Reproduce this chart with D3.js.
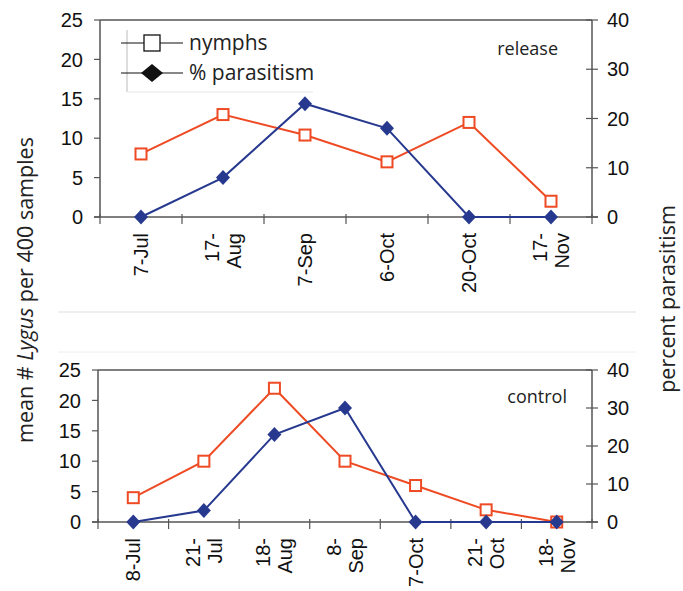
<!DOCTYPE html>
<html>
<head>
<meta charset="utf-8">
<script src="https://cdn.jsdelivr.net/npm/d3@7"></script>
<style>
  body { margin: 0; background: #fff; }
  svg { display: block; }
  .tick-lbl { font-family: "Liberation Sans", Arial, sans-serif; font-size: 20px; fill: #111; }
  .ttl { font-family: "Open Sans", sans-serif; fill: #222; }
</style>
</head>
<body>
<svg width="683" height="591"></svg>
<script>
// release panel
var relDates = ["7-Jul", "17-\nAug", "7-Sep", "6-Oct", "20-Oct", "17-\nNov"];
var relNymphs = [8, 13, 10.4, 7, 12, 2];
var relPara = [0, 8, 23, 18, 0, 0];
// control panel
var ctlDates = ["8-Jul", "21-\nJul", "18-\nAug", "8-\nSep", "7-Oct", "21-\nOct", "18-\nNov"];
var ctlNymphs = [4, 10, 22, 10, 6, 2, 0];
var ctlPara = [0, 3, 23, 30, 0, 0, 0];
// axes
var leftTicks = [0, 5, 10, 15, 20, 25];
var rightTicks = [0, 10, 20, 30, 40];

var orange = "#ee4b24", blue = "#27398f", axisCol = "#555";
var svg = d3.select("svg");

function drawPanel(dates, nymphs, para, box, label) {
  var g = svg.append("g");
  var x = d3.scaleBand().domain(dates).range([box.x0, box.x1]);
  var yL = d3.scaleLinear().domain([0, 25]).range([box.y1, box.y0]);
  var yR = d3.scaleLinear().domain([0, 40]).range([box.y1, box.y0]);
  var cx = d => x(d) + x.bandwidth() / 2;

  // frame: top line, left, right, bottom
  g.append("line").attr("x1", box.x0).attr("x2", box.x1).attr("y1", box.y0).attr("y2", box.y0)
    .attr("stroke", axisCol).attr("stroke-width", 1.5);
  g.append("line").attr("x1", box.x0).attr("x2", box.x0).attr("y1", box.y0).attr("y2", box.y1)
    .attr("stroke", axisCol).attr("stroke-width", 1.5);
  g.append("line").attr("x1", box.x1).attr("x2", box.x1).attr("y1", box.y0).attr("y2", box.y1)
    .attr("stroke", axisCol).attr("stroke-width", 1.5);
  g.append("line").attr("x1", box.x0 - 6).attr("x2", box.x1 + 6).attr("y1", box.y1).attr("y2", box.y1)
    .attr("stroke", axisCol).attr("stroke-width", 1.5);

  // left ticks
  leftTicks.forEach(function(t) {
    g.append("line").attr("x1", box.x0 - 6).attr("x2", box.x0).attr("y1", yL(t)).attr("y2", yL(t))
      .attr("stroke", axisCol).attr("stroke-width", 1.2);
    g.append("text").attr("class", "tick-lbl").attr("x", box.x0 - 17).attr("y", yL(t)).attr("dy", "0.36em")
      .attr("text-anchor", "end").text(t);
  });
  // right ticks
  rightTicks.forEach(function(t) {
    g.append("line").attr("x1", box.x1 - 6).attr("x2", box.x1 + 6).attr("y1", yR(t)).attr("y2", yR(t))
      .attr("stroke", axisCol).attr("stroke-width", 1.2);
    g.append("text").attr("class", "tick-lbl").attr("x", box.x1 + 15).attr("y", yR(t)).attr("dy", "0.36em")
      .text(t);
  });
  // x ticks at band edges
  var edges = dates.map(d => x(d)).concat([box.x1]);
  edges.forEach(function(e) {
    g.append("line").attr("x1", e).attr("x2", e).attr("y1", box.y1 - 3).attr("y2", box.y1 + 7)
      .attr("stroke", axisCol).attr("stroke-width", 1.2);
  });
  // rotated date labels
  dates.forEach(function(d) {
    var lines = d.split("\n");
    var t = g.append("text").attr("class", "tick-lbl").attr("text-anchor", "end")
      .attr("transform", "translate(" + cx(d) + "," + (box.y1 + 16) + ") rotate(-90)");
    lines.forEach(function(l, i) {
      var off = lines.length == 1 ? 7 : (i == 0 ? -4 : 18);
      t.append("tspan").attr("x", 0).attr("y", off).text(l);
    });
  });

  // nymph line + squares
  var lineN = d3.line().x((v, i) => cx(dates[i])).y(v => yL(v));
  g.append("path").attr("d", lineN(nymphs)).attr("fill", "none").attr("stroke", orange).attr("stroke-width", 2);
  g.selectAll(".sq").data(nymphs).enter().append("rect")
    .attr("x", (v, i) => cx(dates[i]) - 5.5).attr("y", v => yL(v) - 5.5)
    .attr("width", 11).attr("height", 11)
    .attr("fill", "#fff").attr("stroke", orange).attr("stroke-width", 2);

  // parasitism line + diamonds
  var lineP = d3.line().x((v, i) => cx(dates[i])).y(v => yR(v));
  g.append("path").attr("d", lineP(para)).attr("fill", "none").attr("stroke", blue).attr("stroke-width", 2);
  g.selectAll(".dm").data(para).enter().append("path")
    .attr("d", (v, i) => { var px = cx(dates[i]), py = yR(v);
      return "M" + px + "," + (py - 7.5) + "L" + (px + 7) + "," + py + "L" + px + "," + (py + 7.5) + "L" + (px - 7) + "," + py + "Z"; })
    .attr("fill", blue);

  g.append("text").attr("class", "ttl").attr("x", label.x).attr("y", label.y)
    .attr("text-anchor", "end").style("font-size", "18px").text(label.text);
  return g;
}

drawPanel(relDates, relNymphs, relPara, {x0: 100, x1: 592, y0: 20, y1: 217}, {x: 558, y: 55, text: "release"});
drawPanel(ctlDates, ctlNymphs, ctlPara, {x0: 98, x1: 592, y0: 370, y1: 522}, {x: 567, y: 403, text: "control"});

// separators between the panels
svg.append("line").attr("x1", 58).attr("x2", 636).attr("y1", 312).attr("y2", 312).attr("stroke", "#ddd");
svg.append("line").attr("x1", 58).attr("x2", 636).attr("y1", 352).attr("y2", 352).attr("stroke", "#eee");

// legend
var leg = svg.append("g");
leg.append("line").attr("x1", 127).attr("x2", 127).attr("y1", 30).attr("y2", 92).attr("stroke", "#bbb");
leg.append("line").attr("x1", 127).attr("x2", 313).attr("y1", 92).attr("y2", 92).attr("stroke", "#e6e6e6");
[["nymphs", 43], ["% parasitism", 73]].forEach(function(r, i) {
  leg.append("line").attr("x1", 121).attr("x2", 183).attr("y1", r[1]).attr("y2", r[1]).attr("stroke", "#111").attr("stroke-width", 1.2);
  if (i == 0) {
    leg.append("rect").attr("x", 144).attr("y", r[1] - 8).attr("width", 16).attr("height", 16)
      .attr("fill", "#fff").attr("stroke", "#111").attr("stroke-width", 1.3);
  } else {
    leg.append("path").attr("d", "M152," + (r[1] - 9) + "L163," + r[1] + "L152," + (r[1] + 9) + "L141," + r[1] + "Z").attr("fill", "#111");
  }
  leg.append("text").attr("class", "ttl").attr("x", 189).attr("y", r[1]).attr("dy", "0.33em")
    .style("font-size", "21px").text(r[0]);
});

// axis titles
var lt = svg.append("text").attr("class", "ttl").attr("text-anchor", "middle").style("font-size", "21.5px")
  .attr("transform", "translate(33,290) rotate(-90)");
lt.append("tspan").text("mean # ");
lt.append("tspan").style("font-style", "italic").text("Lygus");
lt.append("tspan").text(" per 400 samples");
svg.append("text").attr("class", "ttl").attr("text-anchor", "middle").style("font-size", "21.5px")
  .attr("transform", "translate(675,299) rotate(-90)").text("percent parasitism");
</script>
</body>
</html>
